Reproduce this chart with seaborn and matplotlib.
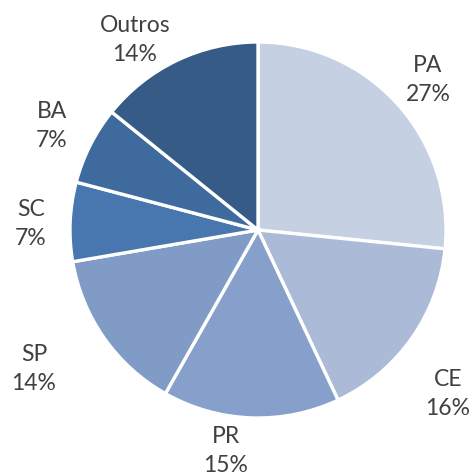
import numpy as np
import matplotlib
matplotlib.use("Agg")
import matplotlib.pyplot as plt
import seaborn as sns

sns.set_theme(style="white")
plt.rcParams['font.family'] = ['Lato', 'DejaVu Sans']

states = ["PA", "CE", "PR", "SP", "SC", "BA", "Outros"]
shares = [26.6, 16.4, 15.2, 14.1, 6.8, 6.7, 14.2]
colors = ["#c5d0e2", "#abbad7", "#87a0cb", "#7f9bc6", "#4876ae", "#3f6a9e", "#365b87"]

# label centres in pixels (from top-left), pie centre at (258, 230), radius 188
label_px = [(428, 80), (448, 394), (226, 451), (34, 369), (31, 224), (52, 126), (135, 40)]
cx, cy, rad = 258, 230, 188

fig = plt.figure(figsize=(4.74, 4.76), dpi=100)
ax = fig.add_axes([0, 0, 1, 1])

wedges, _ = ax.pie(shares, colors=colors, startangle=90, counterclock=False,
                   wedgeprops=dict(edgecolor="white", linewidth=2.4))

total = sum(shares)
for name, val, (px, py) in zip(states, shares, label_px):
    ax.text((px - cx) / rad, (cy - py) / rad, f"{name}\n{round(val / total * 100)}%",
            ha="center", va="center", fontsize=16.5, color="#404040", linespacing=1.45)

ax.set_aspect("auto")
ax.set_xlim(-cx / rad, (474 - cx) / rad)
ax.set_ylim(-(476 - cy) / rad, cy / rad)
ax.axis("off")

fig.savefig("out.png", dpi=100)
